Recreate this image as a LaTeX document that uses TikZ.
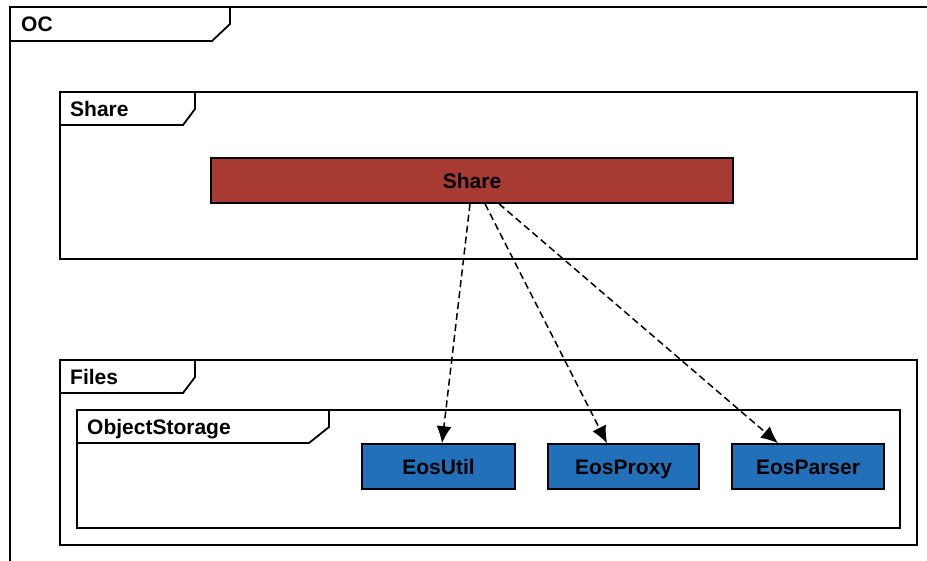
\documentclass[tikz,border=0pt]{standalone}
\usepackage{fontspec}
\setmainfont{Liberation Sans}
\usetikzlibrary{arrows.meta}
\definecolor{sharered}{RGB}{168,58,52}
\definecolor{eosblue}{RGB}{35,112,186}
\begin{document}
\begin{tikzpicture}[x=1pt,y=-1pt,
  frame/.style={draw,line width=1.8pt,inner sep=0pt,outer sep=0pt,anchor=north west},
  tab/.style={draw,line width=1.8pt,line join=miter},
  flabel/.style={anchor=base west,inner sep=0pt,font=\fontsize{21}{25}\selectfont\bfseries},
  comp/.style={draw,line width=1.6pt,inner sep=0pt,minimum height=45pt,text height=15pt,text depth=0pt,font=\fontsize{21}{25}\selectfont\bfseries},
  dep/.style={dash pattern=on 7pt off 4pt,line width=1.5pt,-{Latex[length=17pt,width=15pt]}}]
\useasboundingbox (0,0) rectangle (927,560);
\begin{scope}
\clip (0,0) rectangle (927,560);
% OC frame
\node[frame,minimum width=950pt,minimum height=600pt] (ocframe) at (10,7) {};
\draw[tab] (10,41) -- (212,41) -- (230,24) -- (230,7);
\node[flabel] (oclabel) at (21,31) {OC};
\end{scope}
% Share package
\node[frame,minimum width=857pt,minimum height=167pt] (shareframe) at (60,92) {};
\draw[tab] (60,125) -- (183,125) -- (195,109) -- (195,92);
\node[flabel] (sharelabel) at (70,116) {Share};
% Files package
\node[frame,minimum width=857pt,minimum height=185pt] (filesframe) at (60,360) {};
\draw[tab] (60,393) -- (183,393) -- (195,377) -- (195,360);
\node[flabel] (fileslabel) at (70,384) {Files};
% ObjectStorage package
\node[frame,minimum width=823pt,minimum height=118pt] (osframe) at (77,410) {};
\draw[tab] (77,443) -- (309,443) -- (329,427) -- (329,410);
\node[flabel] (oslabel) at (87,434) {ObjectStorage};
% components
\node[comp,fill=sharered,minimum width=522pt] (share) at (472,180.5) {Share};
\node[comp,fill=eosblue,minimum width=153pt] (eosutil) at (438.5,466.5) {EosUtil};
\node[comp,fill=eosblue,minimum width=151pt] (eosproxy) at (623.5,466.5) {EosProxy};
\node[comp,fill=eosblue,minimum width=152pt] (eosparser) at (808,466.5) {EosParser};
% dependencies
\draw[dep] ([xshift=-2pt]share.south) -- ([xshift=3.5pt]eosutil.north);
\draw[dep] ([xshift=13pt]share.south) -- ([xshift=-16.5pt]eosproxy.north);
\draw[dep] ([xshift=27pt]share.south) -- ([xshift=-30pt]eosparser.north);
\end{tikzpicture}
\end{document}
